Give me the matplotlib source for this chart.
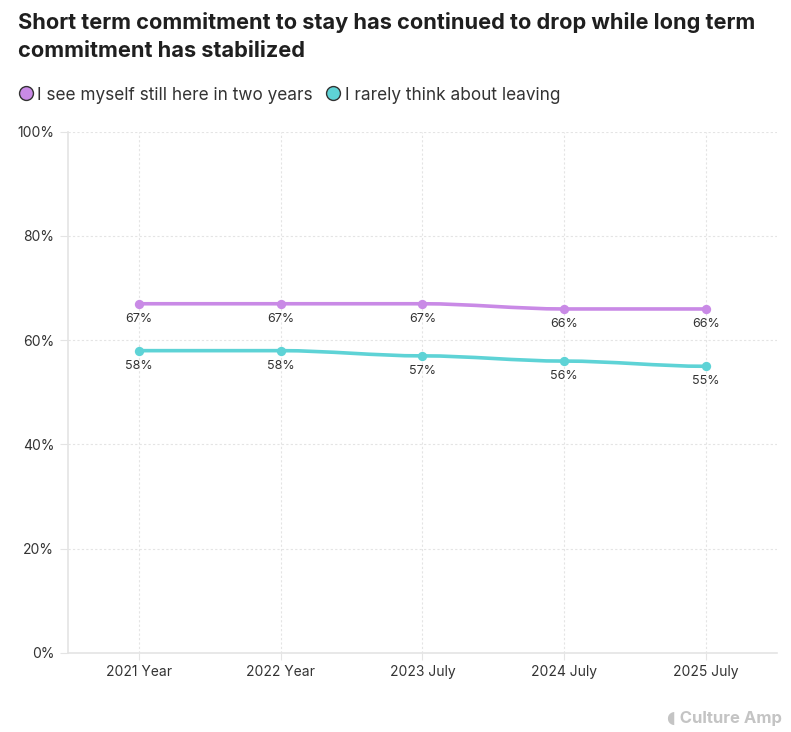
import matplotlib.pyplot as plt
from matplotlib.path import Path
from matplotlib.patches import PathPatch
from matplotlib.lines import Line2D

plt.rcParams['font.family'] = ['Inter', 'DejaVu Sans']

categories = ['2021 Year', '2022 Year', '2023 July', '2024 July', '2025 July']
still_here = [67, 67, 67, 66, 66]
rarely_leave = [58, 58, 57, 56, 55]
y_ticks = [0, 20, 40, 60, 80, 100]

purple = '#c98ae6'
teal = '#5ed3d6'
grid_col = '#e4e4e4'
text_col = '#333333'


def smooth_path(xs, ys):
    # cubic bezier through the points, horizontal tangents
    verts = [(xs[0], ys[0])]
    codes = [Path.MOVETO]
    for i in range(1, len(xs)):
        dx = (xs[i] - xs[i - 1]) / 3.0
        verts += [(xs[i - 1] + dx, ys[i - 1]), (xs[i] - dx, ys[i]), (xs[i], ys[i])]
        codes += [Path.CURVE4] * 3
    return Path(verts, codes)


fig = plt.figure(figsize=(7.91, 7.32), dpi=100)
ax = fig.add_axes([0.086, 0.108, 0.896, 0.712])

x = list(range(len(categories)))
for vals, col in [(still_here, purple), (rarely_leave, teal)]:
    ax.add_patch(PathPatch(smooth_path(x, vals), facecolor='none', edgecolor=col,
                           lw=2.6, capstyle='round', zorder=3))
    ax.scatter(x, vals, s=45, color=col, zorder=4, linewidths=0)
    for xi, v in zip(x, vals):
        ax.annotate('%d%%' % v, (xi, v), xytext=(0, -6.5), textcoords='offset points',
                    ha='center', va='top', fontsize=9, color=text_col)

ax.set_xlim(-0.5, 4.5)
ax.set_ylim(0, 100)
ax.set_xticks(x)
ax.set_xticklabels(categories, fontsize=10, color=text_col)
ax.set_yticks(y_ticks)
ax.set_yticklabels(['%d%%' % t for t in y_ticks], fontsize=10, color=text_col)
ax.grid(True, color=grid_col, linestyle=(0, (2, 2)), linewidth=0.8)
ax.set_axisbelow(True)
for s in ['top', 'right']:
    ax.spines[s].set_visible(False)
for s in ['left', 'bottom']:
    ax.spines[s].set_color(grid_col)
    ax.spines[s].set_linewidth(1.2)
ax.tick_params(axis='y', length=6, color=grid_col, pad=4)
ax.tick_params(axis='x', length=5, color=grid_col, pad=4)

fig.text(0.023, 0.983, 'Short term commitment to stay has continued to drop while long term\ncommitment has stabilized',
         fontsize=15.7, fontweight='bold', color='#1f1f1f', va='top', linespacing=1.5)

handles = [Line2D([], [], marker='o', ls='none', markersize=10, markerfacecolor=c,
                  markeredgecolor='#333333', markeredgewidth=1.0) for c in [purple, teal]]
fig.legend(handles, ['I see myself still here in two years', 'I rarely think about leaving'],
           loc='upper left', bbox_to_anchor=(0.0, 0.903), ncol=2, frameon=False,
           fontsize=12.4, handletextpad=0.05, columnspacing=0.6, handlelength=1.2,
           labelcolor='#333333')

fig.text(0.988, 0.008, '\u25d6 Culture Amp', fontsize=12, fontweight='bold', color='#c4c4c4',
         ha='right', va='bottom')

fig.savefig('out.png', dpi=100, facecolor='white')
